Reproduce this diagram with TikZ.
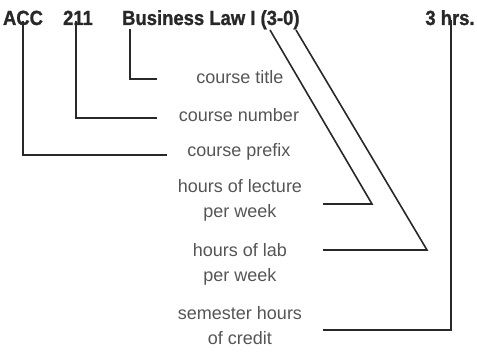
\documentclass[tikz,border=0pt]{standalone}
\definecolor{ink1}{RGB}{40, 40, 40}
\definecolor{gray1}{RGB}{85, 85, 85}
\usepackage{fontspec}
\setmainfont{Liberation Sans}
\newfontfamily\headfont[FakeBold=1.2]{Liberation Sans Bold}
\usepackage{tikz}
\usetikzlibrary{positioning, calc}

\begin{document}
\begin{tikzpicture}[x=1pt, y=-1pt,
    head/.style={inner sep=0pt, text=ink1, font=\fontsize{20.5}{22}\headfont, anchor=base, xscale=0.9, transform shape},
    label/.style={inner sep=0pt, text=gray1, align=center, font=\fontsize{18}{25}\selectfont},
    lead/.style={draw=ink1, line width=1.6pt}]
  \useasboundingbox (0,0) rectangle (477,352);

  % the catalogue entry
  \node[head] (prefix) at (23,25) {ACC};
  \node[head] (number) at (78,25) {211};
  \node[head, anchor=base west] (title) at (122,25) {Business Law I (3-0)};
  \node[head] (hours) at (450,25) {3 hrs.};

  % what each part means
  \node[label] (ttl) at (240,77) {course title};
  \node[label] (num) at (239,115) {course number};
  \node[label] (pre) at (239,152) {course prefix};
  \node[label] (lec) at (240,200) {hours of lecture\\per week};
  \node[label] (lab) at (240,264) {hours of lab\\per week};
  \node[label] (crd) at (240,326) {semester hours\\of credit};

  % feet and ends of the leaders
  \coordinate (titlefoot) at (130,29);
  \coordinate (lecfoot) at (270,30);
  \coordinate (labfoot) at (296,30);
  \coordinate (ttlend) at (157,79);
  \coordinate (numend) at (157,118);
  \coordinate (preend) at (167,155);
  \coordinate (lecbend) at (372,204);
  \coordinate (labbend) at (427,250);
  \coordinate (crdbend) at (451,330);
  \coordinate (lecend) at (323,204);
  \coordinate (labend) at (323,250);
  \coordinate (crdend) at (323,330);

  \draw[lead] (titlefoot) |- (ttlend);
  \draw[lead] ([xshift=-2pt, yshift=4pt]number.base) |- (numend);
  \draw[lead] ([yshift=4pt]prefix.base) |- (preend);
  \draw[lead] (lecfoot) -- (lecbend) -- (lecend);
  \draw[lead] (labfoot) -- (labbend) -- (labend);
  \draw[lead] ([xshift=1pt, yshift=5pt]hours.base) -- (crdbend) -- (crdend);
\end{tikzpicture}
\end{document}
